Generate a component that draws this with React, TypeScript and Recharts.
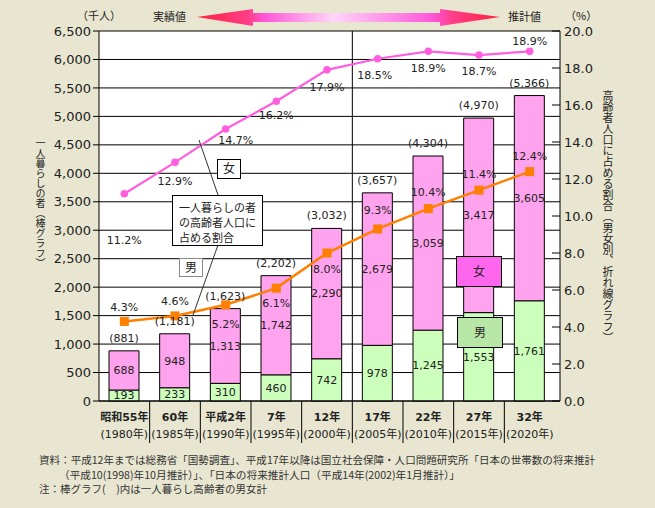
import React from 'react';
import {
  ComposedChart, Bar, Line, XAxis, YAxis, CartesianGrid, LabelList, ReferenceLine,
} from 'recharts';

// 区分（和暦・西暦）
const periodLabels = ['昭和55年', '60年', '平成2年', '7年', '12年', '17年', '22年', '27年', '32年'];
const yearLabels = ['(1980年)', '(1985年)', '(1990年)', '(1995年)', '(2000年)', '(2005年)', '(2010年)', '(2015年)', '(2020年)'];

// 一人暮らし高齢者数（千人）
const maleCounts = [193, 233, 310, 460, 742, 978, 1245, 1553, 1761];
const femaleCounts = [688, 948, 1313, 1742, 2290, 2679, 3059, 3417, 3605];
const totalCounts = [881, 1181, 1623, 2202, 3032, 3657, 4304, 4970, 5366];

// 高齢者人口に占める割合（%）
const femaleRatio = [11.2, 12.9, 14.7, 16.2, 17.9, 18.5, 18.9, 18.7, 18.9];
const maleRatio = [4.3, 4.6, 5.2, 6.1, 8.0, 9.3, 10.4, 11.4, 12.4];

const countTicks = [0, 500, 1000, 1500, 2000, 2500, 3000, 3500, 4000, 4500, 5000, 5500, 6000, 6500];
const ratioTicks = [0, 2, 4, 6, 8, 10, 12, 14, 16, 18, 20];

const data = periodLabels.map((p, i) => ({
  key: p,
  male: maleCounts[i],
  female: femaleCounts[i],
  total: totalCounts[i],
  femalePct: femaleRatio[i],
  malePct: maleRatio[i],
}));

const NUM_FONT = '"DejaVu Sans", "Noto Sans CJK JP", sans-serif';
const JP_FONT = '"Noto Sans CJK JP", "DejaVu Sans", sans-serif';
const TEXT = '#222';
const PINK_BAR = '#ffa3ee';
const GREEN_BAR = '#ccffbb';
const PINK_LINE = '#ff5ee0';
const ORANGE = '#ff8000';

// ラベル位置の微調整（点からのずれ）
const femaleLabelDy = [46, 19, 11, 14, 17, 16, 17, 16, -10];
const femaleLabelDx = [0, 0, 10, 0, 0, -3, 0, 0, 0];
const maleLabelDy = [-14, -15, 19, 15, 16, -19, -17, -16, -16];

const BAND = (461 - 5) / 9;

const fmt = (v: number) => v.toLocaleString('en-US');

const XTick = (props: any) => {
  const { x, y, payload } = props;
  const i = periodLabels.indexOf(payload.value);
  return (
    <g>
      <text x={x} y={y + 20} textAnchor="middle" fontSize={11} fontFamily={NUM_FONT} fill={TEXT} fontWeight={600}>
        {periodLabels[i]}
      </text>
      <text x={x} y={y + 37} textAnchor="middle" fontSize={11} fontFamily={NUM_FONT} fill={TEXT}>
        {yearLabels[i]}
      </text>
      {i < periodLabels.length - 1 && (
        <line x1={x + BAND / 2} x2={x + BAND / 2} y1={y} y2={y + 42} stroke="#000" />
      )}
    </g>
  );
};

const RatioTick = (props: any) => {
  const { x, y, payload } = props;
  return (
    <g>
      <line x1={x - 12} x2={x - 4} y1={y} y2={y} stroke="#000" />
      <text x={x} y={y} dy="0.36em" textAnchor="start" fontSize={13} fontFamily={NUM_FONT} fill={TEXT}>
        {Number(payload.value).toFixed(1)}
      </text>
    </g>
  );
};

const FemaleDot = (props: any) => {
  const { cx, cy, index, value } = props;
  return (
    <g key={`fd-${index}`}>
      <circle cx={cx} cy={cy} r={3.8} fill={PINK_LINE} />
      <text x={cx + femaleLabelDx[index]} y={cy + femaleLabelDy[index]} dy="0.36em" textAnchor="middle"
        fontSize={11} fontFamily={NUM_FONT} fill={TEXT}>
        {`${Number(value).toFixed(1)}%`}
      </text>
    </g>
  );
};

const MaleDot = (props: any) => {
  const { cx, cy, index, value } = props;
  return (
    <g key={`md-${index}`}>
      <rect x={cx - 4.5} y={cy - 4.5} width={9} height={9} fill={ORANGE} />
      <text x={cx} y={cy + maleLabelDy[index]} dy="0.36em" textAnchor="middle"
        fontSize={11} fontFamily={NUM_FONT} fill={TEXT}>
        {`${Number(value).toFixed(1)}%`}
      </text>
    </g>
  );
};

const Overlay = () => (
  <svg width={655} height={508} style={{ position: 'absolute', left: 0, top: 0, pointerEvents: 'none' }}>
    <defs>
      <linearGradient id="arrowGrad" x1="197" x2="500" y1="0" y2="0" gradientUnits="userSpaceOnUse">
        <stop offset="0" stopColor="#ff1f3a" />
        <stop offset="0.17" stopColor="#ff3f8a" />
        <stop offset="0.22" stopColor="#ff55d8" />
        <stop offset="0.45" stopColor="#ffd6f8" />
        <stop offset="0.6" stopColor="#ff9cec" />
        <stop offset="0.78" stopColor="#ff55d8" />
        <stop offset="0.84" stopColor="#ff3f8a" />
        <stop offset="1" stopColor="#ff1f3a" />
      </linearGradient>
    </defs>
    {/* 見出し */}
    <text x={77} y={20} fontSize={11} fontFamily={JP_FONT} fill={TEXT}>（千人）</text>
    <text x={153} y={21} fontSize={11} fontFamily={JP_FONT} fill={TEXT}>実績値</text>
    <text x={508} y={21} fontSize={11} fontFamily={JP_FONT} fill={TEXT}>推計値</text>
    <text x={565} y={20} fontSize={11} fontFamily={JP_FONT} fill={TEXT}>（%）</text>
    <polygon
      points="197,17 253,9 253,13 440,13 440,9 500,17 440,26 440,22 253,22 253,26"
      fill="url(#arrowGrad)"
    />

    {/* 注記 */}
    <line x1={199} y1={140} x2={218} y2={195} stroke="#333" strokeWidth={1} />
    <line x1={218} y1={245} x2={193} y2={315} stroke="#333" strokeWidth={1} />
    <rect x={217.5} y={159.5} width={23} height={19} fill="#fff" stroke="#000" />
    <text x={229} y={173} textAnchor="middle" fontSize={12} fontFamily={JP_FONT} fill={TEXT}>女</text>
    <rect x={172.5} y={195.5} width={90} height={50} fill="#fff" stroke="#000" />
    <text x={179} y={212} fontSize={11} fontFamily={JP_FONT} fill={TEXT}>一人暮らしの者</text>
    <text x={179} y={227} fontSize={11} fontFamily={JP_FONT} fill={TEXT}>の高齢者人口に</text>
    <text x={179} y={242} fontSize={11} fontFamily={JP_FONT} fill={TEXT}>占める割合</text>
    <rect x={179.5} y={258.5} width={23} height={18} fill="#fff" stroke="#888" />
    <text x={191} y={272} textAnchor="middle" fontSize={12} fontFamily={JP_FONT} fill={TEXT}>男</text>

    <rect x={456.5} y={256.5} width={45} height={30} fill="#ff66ee" stroke="#000" />
    <text x={479} y={276} textAnchor="middle" fontSize={12} fontFamily={JP_FONT} fill={TEXT}>女</text>
    <rect x={457.5} y={317.5} width={45} height={30} fill="#b8e6a6" stroke="#000" />
    <text x={480} y={337} textAnchor="middle" fontSize={12} fontFamily={JP_FONT} fill={TEXT}>男</text>

    {/* 出典 */}
    <text x={39} y={464} fontSize={10.5} fontFamily={JP_FONT} fill="#333" textLength={556} lengthAdjust="spacingAndGlyphs">
      資料：平成12年までは総務省「国勢調査」、平成17年以降は国立社会保障・人口問題研究所「日本の世帯数の将来推計
    </text>
    <text x={59} y={479} fontSize={10.5} fontFamily={JP_FONT} fill="#333" textLength={401} lengthAdjust="spacingAndGlyphs">
      （平成10(1998)年10月推計）」、「日本の将来推計人口（平成14年(2002)年1月推計）」
    </text>
    <text x={39} y={493} fontSize={10.5} fontFamily={JP_FONT} fill="#333" textLength={228} lengthAdjust="spacingAndGlyphs">
      注：棒グラフ(　)内は一人暮らし高齢者の男女計
    </text>
  </svg>
);

const App: React.FC = () => {
  return (
    <div style={{ position: 'absolute', left: 0, top: 0, width: 655, height: 508, background: '#e8e6d0' }}>
      <ComposedChart width={655} height={508} data={data} margin={{ top: 31, right: 55, bottom: 62, left: 0 }}>
        <CartesianGrid yAxisId="cnt" vertical={false} stroke="#000" fill="#fff" />
        <XAxis
          dataKey="key"
          tick={<XTick />}
          tickLine={false}
          tickSize={0}
          tickMargin={0}
          height={45}
          interval={0}
          axisLine={{ stroke: '#000' }}
          padding={{ left: 0, right: 5 }}
        />
        <YAxis
          yAxisId="cnt"
          width={99}
          domain={[0, 6500]}
          ticks={countTicks}
          interval={0}
          tickFormatter={fmt}
          tick={{ fontSize: 13, fill: TEXT, fontFamily: NUM_FONT }}
          tickSize={6}
          tickMargin={2}
          tickLine={{ stroke: '#000' }}
          axisLine={{ stroke: '#000' }}
        />
        <YAxis
          yAxisId="pct"
          orientation="right"
          width={40}
          domain={[0, 20]}
          ticks={ratioTicks}
          interval={0}
          tick={<RatioTick />}
          tickLine={false}
          tickSize={0}
          tickMargin={4}
          axisLine={{ stroke: '#000' }}
        />
        <ReferenceLine yAxisId="cnt" x={periodLabels[5]} position="start" stroke="#000" />
        <Bar yAxisId="cnt" dataKey="male" stackId="a" fill={GREEN_BAR} stroke="#000" strokeWidth={1}
          barSize={30} isAnimationActive={false}>
          <LabelList dataKey="male" position="center" formatter={(v: any) => fmt(Number(v))}
            style={{ fontSize: 11, fill: TEXT, fontFamily: NUM_FONT }} />
        </Bar>
        <Bar yAxisId="cnt" dataKey="female" stackId="a" fill={PINK_BAR} stroke="#000" strokeWidth={1}
          barSize={30} isAnimationActive={false}>
          <LabelList dataKey="female" position="center" formatter={(v: any) => fmt(Number(v))}
            style={{ fontSize: 11, fill: TEXT, fontFamily: NUM_FONT }} />
          <LabelList dataKey="total" position="top" offset={9} formatter={(v: any) => `(${fmt(Number(v))})`}
            style={{ fontSize: 11, fill: TEXT, fontFamily: NUM_FONT }} />
        </Bar>
        <Line yAxisId="pct" dataKey="femalePct" stroke={PINK_LINE} strokeWidth={2.2} dot={FemaleDot}
          activeDot={false} isAnimationActive={false} />
        <Line yAxisId="pct" dataKey="malePct" stroke={ORANGE} strokeWidth={2.5} dot={MaleDot}
          activeDot={false} isAnimationActive={false} />
      </ComposedChart>
      <Overlay />
      <div style={{
        position: 'absolute', left: 35, top: 138, writingMode: 'vertical-rl', fontSize: 10,
        fontFamily: JP_FONT, color: TEXT, lineHeight: 1,
      }}>
        一人暮らしの者（棒グラフ）
      </div>
      <div style={{
        position: 'absolute', left: 602, top: 90, writingMode: 'vertical-rl', fontSize: 11,
        fontFamily: JP_FONT, color: TEXT, lineHeight: 1,
      }}>
        高齢者人口に占める割合（男女別、折れ線グラフ）
      </div>
    </div>
  );
};

export default App;
